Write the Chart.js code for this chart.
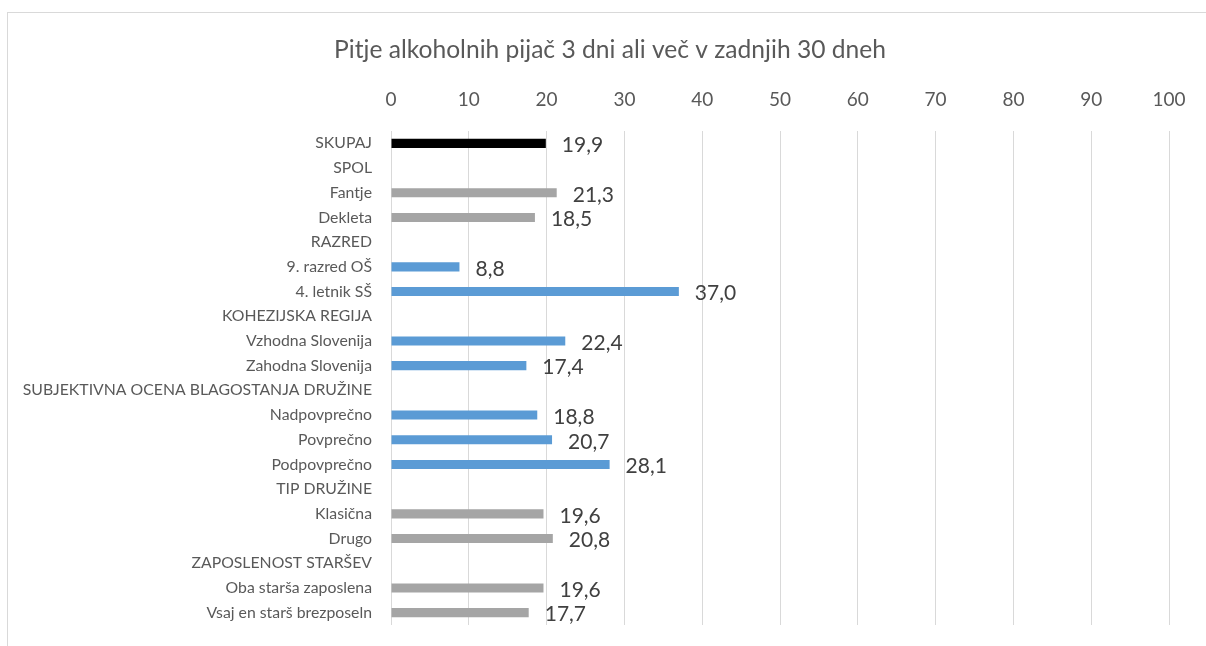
<!DOCTYPE html>
<html>
<head>
<meta charset="utf-8">
<script src="https://cdn.jsdelivr.net/npm/chart.js@4.4.1/dist/chart.umd.min.js"></script>
<style>
  html, body { margin: 0; padding: 0; background: #fff; }
  .okvir { position: absolute; left: 7px; top: 12px; width: 1300px; height: 700px; border: 1px solid #d9d9d9; }
  .conten_chart { position: absolute; left: 0; top: 0; width: 1206px; height: 646px; }
</style>
</head>
<body>
<div class="okvir"></div>
<div class="conten_chart"><canvas id="bar-chart"></canvas></div>
<script>
// podatki
let title = 'Pitje alkoholnih pijač 3 dni ali več v zadnjih 30 dneh'
let categories = [
  'SKUPAJ', 'SPOL', 'Fantje', 'Dekleta', 'RAZRED', '9. razred OŠ', '4. letnik SŠ',
  'KOHEZIJSKA REGIJA', 'Vzhodna Slovenija', 'Zahodna Slovenija',
  'SUBJEKTIVNA OCENA BLAGOSTANJA DRUŽINE', 'Nadpovprečno', 'Povprečno', 'Podpovprečno',
  'TIP DRUŽINE', 'Klasična', 'Drugo', 'ZAPOSLENOST STARŠEV',
  'Oba starša zaposlena', 'Vsaj en starš brezposeln'
]
let values = [
  19.9, null, 21.3, 18.5, null, 8.8, 37.0,
  null, 22.4, 17.4,
  null, 18.8, 20.7, 28.1,
  null, 19.6, 20.8, null,
  19.6, 17.7
]
let xTicks = [0, 10, 20, 30, 40, 50, 60, 70, 80, 90, 100]

// barve skupin
let barColors = [
  '#000000', null, '#a5a5a5', '#a5a5a5', null, '#5b9bd5', '#5b9bd5',
  null, '#5b9bd5', '#5b9bd5',
  null, '#5b9bd5', '#5b9bd5', '#5b9bd5',
  null, '#a5a5a5', '#a5a5a5', null,
  '#a5a5a5', '#a5a5a5'
]

const font = "Lato, 'Open Sans', sans-serif"
const grey = '#595959'

// naslov, sredinsko nad celim okvirjem
const chartTitle = {
  id: 'chartTitle',
  afterDraw(chart) {
    const ctx = chart.ctx
    ctx.save()
    ctx.font = '24.6px ' + font
    ctx.fillStyle = grey
    ctx.textAlign = 'center'
    ctx.textBaseline = 'middle'
    ctx.fillText(title, 610, 50)
    ctx.restore()
  }
}

// oznake vrednosti desno od stolpcev
const valueLabels = {
  id: 'valueLabels',
  afterDatasetsDraw(chart) {
    const ctx = chart.ctx
    const meta = chart.getDatasetMeta(0)
    ctx.save()
    ctx.font = '21px ' + font
    ctx.fillStyle = '#404040'
    ctx.textBaseline = 'middle'
    ctx.textAlign = 'left'
    meta.data.forEach((bar, i) => {
      const v = values[i]
      if (v === null) return
      ctx.fillText(v.toFixed(1).replace('.', ','), bar.x + 16, bar.y + 2)
    })
    ctx.restore()
  }
}

new Chart(document.getElementById('bar-chart'), {
  type: 'bar',
  data: {
    labels: categories,
    datasets: [{
      data: values,
      backgroundColor: barColors,
      categoryPercentage: 1,
      barPercentage: 0.37
    }]
  },
  options: {
    indexAxis: 'y',
    responsive: true,
    maintainAspectRatio: false,
    animation: false,
    layout: { padding: { left: 0, right: 37, top: 65, bottom: 21 } },
    plugins: {
      legend: { display: false },
      tooltip: { enabled: false },
      title: { display: false }
    },
    scales: {
      x: {
        position: 'top',
        min: 0,
        max: 100,
        afterBuildTicks(scale) { scale.ticks = xTicks.map(v => ({ value: v })) },
        afterFit(scale) { scale.height = 66 },
        ticks: { color: grey, font: { family: font, size: 19 }, padding: 20 },
        grid: { color: '#d9d9d9', lineWidth: 1, drawTicks: false },
        border: { display: false }
      },
      y: {
        afterFit(scale) {
          scale.width = 391
          scale.paddingTop = 0
          scale.paddingBottom = 0
        },
        ticks: { color: grey, font: { family: font, size: 15.8 }, padding: 19, autoSkip: false },
        grid: { display: false, drawTicks: false },
        border: { display: false }
      }
    }
  },
  plugins: [valueLabels, chartTitle]
})
</script>
</body>
</html>
